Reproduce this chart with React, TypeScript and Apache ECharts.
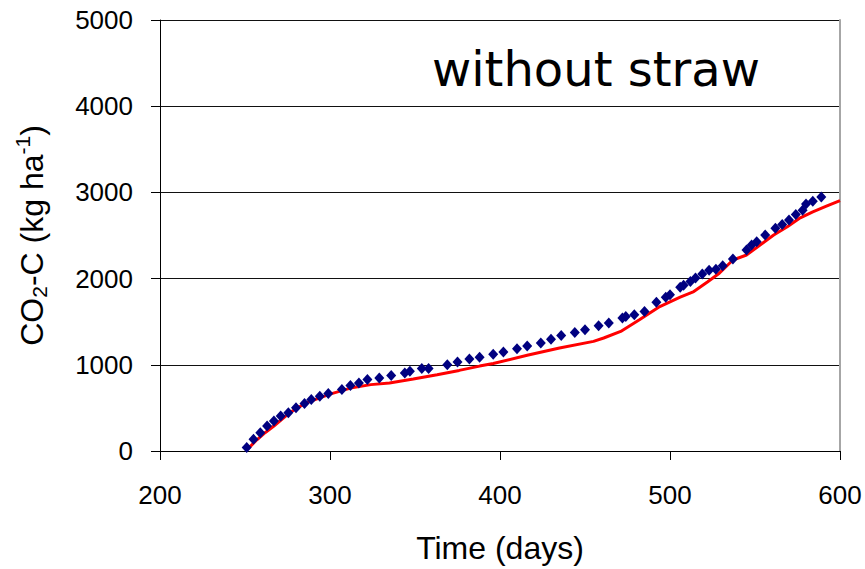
import React, { useEffect, useRef } from "react";
import * as echarts from "echarts";

const titleText = "without straw";
const xTicks = { min: 200, max: 600, step: 100 };
const yTicks = { min: 0, max: 5000, step: 1000 };

// measured CO2-C (diamonds): [day, kg ha-1]
const measuredDays = [
  251, 255, 259, 263, 267, 271, 275.5, 280, 285, 289, 294, 299, 307, 312, 317, 322, 329, 336, 344, 347,
  354, 358, 369, 375, 382, 388, 396, 402, 410, 416, 424, 430, 436, 444, 450, 458, 464, 472, 474, 479,
  485, 492, 497.5, 500, 506, 508, 512, 515, 519, 523, 527, 531, 537, 545, 548, 551, 556, 562, 566, 570,
  574, 578, 580, 584, 589,
];
const measuredValues = [
  40, 135, 212, 290, 347, 405, 444, 502, 551, 598, 636, 667, 713, 760, 790, 829, 848, 875, 906, 925,
  956, 956, 1002, 1033, 1068, 1087, 1122, 1149, 1187, 1218, 1253, 1295, 1341, 1376, 1407, 1453, 1484, 1542, 1561, 1580,
  1618, 1727, 1785, 1812, 1900, 1924, 1965, 2008, 2054, 2096, 2108, 2150, 2228, 2332, 2390, 2428, 2505, 2583, 2629, 2679,
  2744, 2794, 2864, 2898, 2948,
];

// simulated CO2-C (red line)
const simulatedDays = [
  252, 257, 262, 267, 276, 286, 300, 312, 324, 335, 349, 363, 376, 388, 396, 416, 435, 455, 461, 471,
  482, 494, 506, 514, 522, 529, 537, 545, 553, 561, 569, 576, 584, 592, 600,
];
const simulatedValues = [
  30, 130, 215, 290, 440, 560, 660, 730, 770, 790, 835, 885, 935, 985, 1015, 1110, 1195, 1272, 1311, 1387,
  1522, 1676, 1785, 1850, 1960, 2062, 2216, 2274, 2390, 2505, 2601, 2698, 2775, 2840, 2905,
];

export default function App() {
  const ref = useRef<HTMLDivElement>(null);
  useEffect(() => {
    document.body.style.margin = "0";
    const chart = echarts.init(ref.current!, null, { renderer: "svg" });
    const measured = measuredDays.map((d, i) => [d, measuredValues[i]]);
    const simulated = simulatedDays.map((d, i) => [d, simulatedValues[i]]);
    chart.setOption({
      animation: false,
      backgroundColor: "#ffffff",
      title: {
        text: titleText,
        left: 427,
        top: 40,
        textStyle: {
          fontFamily: "DejaVu Sans",
          fontSize: 48,
          fontWeight: "normal",
          color: "#000",
          lineHeight: 48,
        },
      },
      grid: { left: 160, right: 25, top: 20, bottom: 117 },
      xAxis: {
        type: "value",
        min: xTicks.min,
        max: xTicks.max,
        interval: xTicks.step,
        name: "Time (days)",
        nameLocation: "middle",
        nameGap: 81,
        nameTextStyle: { fontFamily: "Liberation Sans", fontSize: 32, color: "#000" },
        axisLine: { show: true, lineStyle: { color: "#000", width: 1 } },
        axisTick: { show: true, length: 9, lineStyle: { color: "#000" } },
        axisLabel: { margin: 31, fontFamily: "Liberation Sans", fontSize: 26, color: "#000", formatter: (v: number) => String(v) },
        splitLine: { show: false },
      },
      yAxis: [
        {
          type: "value",
          min: yTicks.min,
          max: yTicks.max,
          interval: yTicks.step,
          name: "{n|CO}{sub|2}{n|-C (kg ha}{sup|-1}{n|)}",
          nameLocation: "middle",
          nameGap: 108,
          nameTextStyle: {
            fontFamily: "Liberation Sans",
            fontSize: 32,
            color: "#000",
            rich: {
              n: { fontFamily: "Liberation Sans", fontSize: 32, color: "#000", lineHeight: 40, verticalAlign: "middle" },
              sub: { fontFamily: "Liberation Sans", fontSize: 21, color: "#000", lineHeight: 40, verticalAlign: "bottom", padding: [0, 0, 2, 0] },
              sup: { fontFamily: "Liberation Sans", fontSize: 21, color: "#000", lineHeight: 40, verticalAlign: "top" },
            },
          },
          axisLine: { show: true, lineStyle: { color: "#000", width: 1 } },
          axisTick: { show: true, length: 9, lineStyle: { color: "#000" } },
          axisLabel: { margin: 27, fontFamily: "Liberation Sans", fontSize: 26, color: "#000", formatter: (v: number) => String(v) },
          splitLine: { show: true, lineStyle: { color: "#111", width: 1 } },
        },
        {
          type: "value",
          position: "right",
          min: yTicks.min,
          max: yTicks.max,
          interval: yTicks.step,
          axisLine: { show: true, lineStyle: { color: "#a6a6a6", width: 2 } },
          axisTick: { show: false },
          axisLabel: { show: false },
          splitLine: { show: false },
        },
      ],
      series: [
        {
          name: "simulated",
          type: "line",
          data: simulated,
          showSymbol: false,
          symbol: "none",
          lineStyle: { color: "#ff0000", width: 3 },
          z: 2,
        },
        {
          name: "measured",
          type: "scatter",
          data: measured,
          symbol: "diamond",
          symbolSize: [10, 11],
          itemStyle: { color: "#000080", opacity: 1 },
          z: 3,
        },
      ],
    });
    return () => chart.dispose();
  }, []);
  return <div ref={ref} style={{ width: 865, height: 569 }} />;
}
